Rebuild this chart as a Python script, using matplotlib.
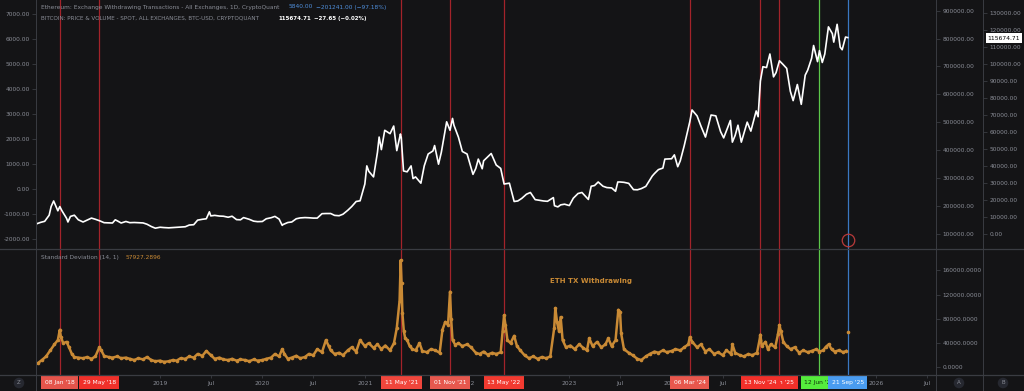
import matplotlib
matplotlib.use("Agg")
import matplotlib.pyplot as plt
import matplotlib.dates as mdates
from matplotlib.lines import Line2D
from matplotlib.transforms import blended_transform_factory
import pandas as pd

# btc price (roughly two points a month)
btc_dates = [
    "2017-10-20", "2017-11-01", "2017-11-15", "2017-12-01", "2017-12-08", "2017-12-17",
    "2018-01-01", "2018-01-08", "2018-01-15", "2018-02-01", "2018-02-06", "2018-02-15",
    "2018-03-01", "2018-03-15", "2018-04-01", "2018-04-15", "2018-05-01", "2018-05-15",
    "2018-06-01", "2018-06-15", "2018-07-01", "2018-07-15", "2018-07-25", "2018-08-01",
    "2018-08-15", "2018-09-01", "2018-09-15", "2018-10-01", "2018-10-15", "2018-11-01",
    "2018-11-15", "2018-12-01", "2018-12-15", "2019-01-01", "2019-01-15", "2019-02-01",
    "2019-02-15", "2019-03-01", "2019-03-15", "2019-04-01", "2019-04-15", "2019-05-01",
    "2019-05-15", "2019-06-01", "2019-06-15", "2019-06-26", "2019-07-01", "2019-07-15",
    "2019-08-01", "2019-08-15", "2019-09-01", "2019-09-15", "2019-10-01", "2019-10-15",
    "2019-10-26", "2019-11-01", "2019-11-15", "2019-12-01", "2019-12-15", "2020-01-01",
    "2020-01-15", "2020-02-01", "2020-02-15", "2020-03-01", "2020-03-12", "2020-03-15",
    "2020-04-01", "2020-04-15", "2020-05-01", "2020-05-15", "2020-06-01", "2020-06-15",
    "2020-07-01", "2020-07-15", "2020-08-01", "2020-08-15", "2020-09-01", "2020-09-15",
    "2020-10-01", "2020-10-15", "2020-11-01", "2020-11-15", "2020-12-01", "2020-12-15",
    "2021-01-01", "2021-01-08", "2021-01-15", "2021-02-01", "2021-02-15", "2021-02-21",
    "2021-03-01", "2021-03-13", "2021-04-01", "2021-04-14", "2021-04-25", "2021-05-08",
    "2021-05-11", "2021-05-19", "2021-06-01", "2021-06-15", "2021-06-22", "2021-07-01",
    "2021-07-20", "2021-08-01", "2021-08-15", "2021-09-01", "2021-09-07", "2021-09-21",
    "2021-10-01", "2021-10-20", "2021-11-01", "2021-11-10", "2021-11-15", "2021-12-01",
    "2021-12-15", "2022-01-01", "2022-01-22", "2022-02-01", "2022-02-10", "2022-02-24",
    "2022-03-01", "2022-03-28", "2022-04-15", "2022-05-01", "2022-05-13", "2022-06-01",
    "2022-06-18", "2022-07-01", "2022-07-15", "2022-08-01", "2022-08-15", "2022-09-01",
    "2022-09-15", "2022-10-01", "2022-10-15", "2022-11-05", "2022-11-09", "2022-11-21",
    "2022-12-01", "2022-12-15", "2023-01-01", "2023-01-15", "2023-02-01", "2023-02-15",
    "2023-03-10", "2023-03-20", "2023-04-01", "2023-04-14", "2023-05-01", "2023-05-15",
    "2023-06-01", "2023-06-15", "2023-06-23", "2023-07-01", "2023-07-15", "2023-08-01",
    "2023-08-18", "2023-09-01", "2023-09-15", "2023-10-01", "2023-10-24", "2023-11-01",
    "2023-11-15", "2023-12-01", "2023-12-08", "2024-01-01", "2024-01-11", "2024-01-23",
    "2024-02-01", "2024-02-15", "2024-03-01", "2024-03-06", "2024-03-14", "2024-04-01",
    "2024-04-15", "2024-05-01", "2024-05-21", "2024-06-07", "2024-06-24", "2024-07-05",
    "2024-07-29", "2024-08-05", "2024-08-15", "2024-08-25", "2024-09-06", "2024-09-27",
    "2024-10-10", "2024-10-29", "2024-11-05", "2024-11-13", "2024-11-22", "2024-12-05",
    "2024-12-17", "2024-12-30", "2025-01-08", "2025-01-20", "2025-02-01", "2025-02-15",
    "2025-02-28", "2025-03-10", "2025-03-25", "2025-04-08", "2025-04-22", "2025-05-01",
    "2025-05-15", "2025-05-22", "2025-06-05", "2025-06-12", "2025-06-22", "2025-07-01",
    "2025-07-14", "2025-07-28", "2025-08-02", "2025-08-14", "2025-08-25", "2025-09-01",
    "2025-09-13", "2025-09-21",
]
btc_price = [
    6000, 6700, 7300, 10900, 16000, 19300,
    13500, 16000, 13700, 9100, 6900, 10200,
    10900, 8200, 6900, 8000, 9200, 8500,
    7500, 6500, 6400, 6300, 8200, 7600,
    6300, 7200, 6500, 6600, 6500, 6350,
    5600, 4200, 3250, 3800, 3600, 3450,
    3600, 3800, 3900, 4100, 5100, 5300,
    8000, 8500, 8800, 12900, 10500, 10800,
    10400, 10300, 9700, 10300, 8300, 8200,
    9500, 9200, 8500, 7400, 7100, 7200,
    8800, 9400, 10200, 8600, 4900, 5400,
    6600, 6900, 8800, 9300, 9500, 9400,
    9200, 9200, 11800, 11900, 11900, 10800,
    10600, 11500, 13800, 16000, 19000, 19400,
    29300, 40000, 36800, 33500, 48000, 57000,
    49600, 61000, 59000, 63500, 49000, 58800,
    56700, 37000, 36500, 40000, 32500, 33500,
    29800, 40000, 47000, 48800, 52000, 41000,
    48000, 66000, 61000, 68000, 64000, 57000,
    48500, 47000, 35000, 38500, 44000, 38300,
    43000, 47300, 40500, 38500, 29300, 29800,
    19000, 19300, 20800, 23300, 24300, 20100,
    19700, 19300, 19100, 21300, 16500, 15800,
    17000, 17400, 16600, 20900, 23700, 24300,
    20200, 28000, 28400, 30500, 28000, 27200,
    27000, 25000, 30500, 30500, 30300, 29700,
    26000, 25900, 26600, 27900, 34000, 35500,
    37800, 38700, 44000, 44200, 46500, 39500,
    43000, 51800, 62500, 66000, 73000, 69500,
    63400, 57000, 70000, 69500, 60200, 56500,
    66800, 54000, 58000, 64000, 54000, 65800,
    60500, 72400, 69000, 90000, 98500, 98000,
    106000, 92500, 95000, 102000, 100000, 97500,
    84000, 78500, 88000, 76300, 93500, 96500,
    103500, 111000, 101500, 108000, 101000, 106000,
    122000, 118000, 113000, 123500, 110000, 108500,
    116000, 115674.71,
]

# standard deviation (14, 1) of eth withdrawing tx, lower pane dots
std_dates = [
    "2017-10-22", "2017-11-05", "2017-11-20", "2017-12-05", "2017-12-20", "2018-01-01",
    "2018-01-08", "2018-01-12", "2018-01-20", "2018-02-01", "2018-02-10", "2018-02-20",
    "2018-03-01", "2018-03-15", "2018-04-01", "2018-04-15", "2018-05-01", "2018-05-15",
    "2018-05-29", "2018-06-05", "2018-06-15", "2018-07-01", "2018-07-15", "2018-08-01",
    "2018-08-15", "2018-09-01", "2018-09-15", "2018-10-01", "2018-10-15", "2018-11-01",
    "2018-11-15", "2018-12-01", "2018-12-15", "2019-01-01", "2019-01-15", "2019-02-01",
    "2019-02-15", "2019-03-01", "2019-03-15", "2019-04-01", "2019-04-15", "2019-05-01",
    "2019-05-15", "2019-06-01", "2019-06-15", "2019-07-01", "2019-07-15", "2019-08-01",
    "2019-08-15", "2019-09-01", "2019-09-15", "2019-10-01", "2019-10-15", "2019-11-01",
    "2019-11-15", "2019-12-01", "2019-12-15", "2020-01-01", "2020-01-15", "2020-02-01",
    "2020-02-15", "2020-03-01", "2020-03-12", "2020-03-20", "2020-04-01", "2020-04-15",
    "2020-05-01", "2020-05-15", "2020-06-01", "2020-06-15", "2020-07-01", "2020-07-15",
    "2020-08-01", "2020-08-15", "2020-08-25", "2020-09-01", "2020-09-15", "2020-10-01",
    "2020-10-15", "2020-11-01", "2020-11-15", "2020-12-01", "2020-12-15", "2021-01-01",
    "2021-01-15", "2021-02-01", "2021-02-15", "2021-03-01", "2021-03-15", "2021-04-01",
    "2021-04-15", "2021-04-25", "2021-05-05", "2021-05-09", "2021-05-12", "2021-05-15",
    "2021-05-20", "2021-05-25", "2021-06-01", "2021-06-10", "2021-06-20", "2021-07-01",
    "2021-07-15", "2021-07-25", "2021-08-10", "2021-08-25", "2021-09-10", "2021-09-25",
    "2021-10-05", "2021-10-15", "2021-10-25", "2021-11-01", "2021-11-05", "2021-11-10",
    "2021-11-20", "2021-12-01", "2021-12-15", "2022-01-01", "2022-01-15", "2022-02-01",
    "2022-02-15", "2022-03-01", "2022-03-15", "2022-04-01", "2022-04-15", "2022-05-01",
    "2022-05-08", "2022-05-13", "2022-05-18", "2022-05-25", "2022-06-05", "2022-06-18",
    "2022-06-28", "2022-07-10", "2022-07-25", "2022-08-10", "2022-08-25", "2022-09-10",
    "2022-09-25", "2022-10-10", "2022-10-25", "2022-11-08", "2022-11-12", "2022-11-18",
    "2022-11-25", "2022-12-01", "2022-12-08", "2022-12-20", "2023-01-05", "2023-01-20",
    "2023-02-05", "2023-02-20", "2023-03-05", "2023-03-13", "2023-03-25", "2023-04-10",
    "2023-04-25", "2023-05-10", "2023-05-20", "2023-06-01", "2023-06-15", "2023-06-25",
    "2023-07-01", "2023-07-05", "2023-07-15", "2023-08-01", "2023-08-15", "2023-09-01",
    "2023-09-15", "2023-10-01", "2023-10-15", "2023-11-01", "2023-11-15", "2023-12-01",
    "2023-12-15", "2024-01-01", "2024-01-15", "2024-02-01", "2024-02-15", "2024-03-01",
    "2024-03-06", "2024-03-15", "2024-04-01", "2024-04-15", "2024-05-01", "2024-05-15",
    "2024-06-01", "2024-06-15", "2024-07-01", "2024-07-15", "2024-08-01", "2024-08-05",
    "2024-08-15", "2024-09-01", "2024-09-15", "2024-10-01", "2024-10-15", "2024-11-01",
    "2024-11-10", "2024-11-13", "2024-11-18", "2024-12-01", "2024-12-10", "2024-12-20",
    "2025-01-05", "2025-01-15", "2025-01-20", "2025-01-25", "2025-02-03", "2025-02-15",
    "2025-03-01", "2025-03-15", "2025-04-01", "2025-04-15", "2025-05-01", "2025-05-15",
    "2025-06-01", "2025-06-12", "2025-06-25", "2025-07-05", "2025-07-15", "2025-07-25",
    "2025-08-05", "2025-08-20", "2025-09-05", "2025-09-15",
]
std_vals = [
    7000, 12000, 18000, 28000, 38000, 45000,
    62000, 50000, 40000, 42000, 33000, 22000,
    17000, 16000, 15000, 17000, 14000, 18000,
    33000, 28000, 19000, 17000, 16000, 18000,
    15000, 16000, 14000, 12000, 15000, 13000,
    17000, 12000, 10000, 11000, 9000, 10000,
    12000, 11000, 15000, 14000, 18000, 16000,
    22000, 19000, 27000, 20000, 14000, 16000,
    13000, 12000, 14000, 11000, 13000, 12000,
    10000, 13000, 11000, 12000, 14000, 16000,
    22000, 18000, 30000, 22000, 14000, 16000,
    19000, 15000, 17000, 22000, 20000, 30000,
    25000, 45000, 35000, 28000, 22000, 24000,
    20000, 28000, 33000, 26000, 45000, 35000,
    40000, 32000, 38000, 30000, 36000, 28000,
    40000, 65000, 110000, 177000, 140000, 90000,
    60000, 48000, 45000, 35000, 30000, 28000,
    40000, 27000, 25000, 30000, 28000, 24000,
    62000, 75000, 70000, 125000, 80000, 45000,
    37000, 40000, 35000, 38000, 33000, 24000,
    22000, 26000, 21000, 24000, 22000, 25000,
    60000, 86000, 70000, 45000, 40000, 52000,
    35000, 28000, 20000, 15000, 18000, 14000,
    17000, 15000, 18000, 65000, 98000, 75000,
    60000, 83000, 45000, 33000, 36000, 30000,
    38000, 32000, 28000, 48000, 35000, 42000,
    33000, 38000, 48000, 35000, 45000, 95000,
    92000, 56000, 30000, 24000, 20000, 14000,
    12000, 18000, 22000, 26000, 24000, 28000,
    25000, 27000, 30000, 28000, 33000, 38000,
    50000, 42000, 33000, 38000, 26000, 30000,
    22000, 25000, 20000, 28000, 22000, 38000,
    24000, 20000, 18000, 22000, 20000, 24000,
    45000, 54000, 35000, 42000, 30000, 38000,
    33000, 55000, 70000, 60000, 42000, 35000,
    30000, 33000, 24000, 28000, 25000, 27000,
    30000, 26000, 28000, 34000, 38000, 30000,
    26000, 28000, 25000, 27000,
]
std_last_date = "2025-09-21"
std_last_val = 57927.2896

# vertical event markers
event_dates = ["2018-01-08", "2018-05-29", "2021-05-11", "2021-11-01", "2022-05-13",
               "2024-03-06", "2025-01-20", "2024-11-13", "2025-06-12", "2025-09-21"]
event_labels = ["08 Jan '18", "29 May '18", "11 May '21", "01 Nov '21", "13 May '22",
                "06 Mar '24", "20 Jan '25", "13 Nov '24", "12 Jun '25", "21 Sep '25"]

left_ticks = [-2000, -1000, 0, 1000, 2000, 3000, 4000, 5000, 6000, 7000]
mid_ticks = [100000, 200000, 300000, 400000, 500000, 600000, 700000, 800000, 900000]
btc_ticks = [0, 10000, 20000, 30000, 40000, 50000, 60000, 70000, 80000, 90000,
             100000, 110000, 120000, 130000]
std_ticks = [0, 40000, 80000, 120000, 160000]
# time ticks that are not hidden behind a date box
time_ticks = ["2019-01-01", "2019-07-01", "2020-01-01", "2020-07-01", "2021-01-01",
              "2022-01-01", "2023-01-01", "2023-07-01", "2024-01-01", "2024-07-01",
              "2026-01-01", "2026-07-01"]

# styles
BG = "#141416"
SEP = "#3a3c42"
TXT = "#8a8d96"
ORANGE = "#c98a35"
event_box = ["#e5544b", "#f0302a", "#f0463c", "#e6584e", "#f23a30",
             "#e8574d", "#f2302a", "#f2302a", "#55ec3c", "#4a9cf0"]
event_line = ["#a3232a"] * 8 + ["#5cc84a", "#3a78c2"]
event_txt = ["white"] * 8 + ["#10300a", "white"]

W, H = 1024, 391


def fx(px):
    return px / W


def fy(py):
    return 1 - py / H


fig = plt.figure(figsize=(W / 100, H / 100), dpi=100)
fig.patch.set_facecolor(BG)

ax_top = fig.add_axes([fx(36), fy(249), 900 / W, 249 / H])
ax_bot = fig.add_axes([fx(36), fy(375), 900 / W, 126 / H], sharex=ax_top)
for a in (ax_top, ax_bot):
    a.set_facecolor(BG)
    for s in a.spines.values():
        s.set_visible(False)

ax_top.set_xlim(mdates.date2num(pd.Timestamp("2017-10-15")),
                mdates.date2num(pd.Timestamp("2026-08-02")))

# left scale (eth tx)
ax_top.set_ylim(-2400, 7560)
ax_top.set_yticks(left_ticks)
ax_top.set_yticklabels([f"{v:.2f}" for v in left_ticks])
ax_top.tick_params(axis="y", colors=TXT, labelsize=4.2, length=3, width=0.6, pad=1.5,
                   color=SEP)
ax_top.tick_params(axis="x", bottom=False, labelbottom=False)

# middle scale
ax_mid = ax_top.twinx()
for s in ax_mid.spines.values():
    s.set_visible(False)
ax_mid.set_ylim(45100, 938400)
ax_mid.set_yticks(mid_ticks)
ax_mid.set_yticklabels([f"{v:.2f}" for v in mid_ticks])
ax_mid.tick_params(axis="y", colors=TXT, labelsize=4.2, length=3, width=0.6, pad=1.5,
                   color=SEP)

# btc price scale
ax_btc = ax_top.twinx()
for s in ax_btc.spines.values():
    s.set_visible(False)
ax_btc.spines["right"].set_position(("axes", (983 - 36) / 900))
ax_btc.set_ylim(-9030, 137850)
ax_btc.set_yticks(btc_ticks)
ax_btc.set_yticklabels([f"{v:.2f}" for v in btc_ticks])
ax_btc.tick_params(axis="y", colors=TXT, labelsize=4.2, length=3, width=0.6, pad=1.5,
                   color=SEP)

bd = pd.to_datetime(btc_dates)
ax_btc.plot(bd, btc_price, color="white", lw=1.2, zorder=5)

# lower pane
sd = pd.to_datetime(std_dates)
ax_bot.plot(sd, std_vals, color=ORANGE, lw=1.8, marker="o", ms=2.6, mec="none")
ax_bot.plot([pd.Timestamp(std_last_date)], [std_last_val], color=ORANGE, marker="o",
            ms=2.6, mec="none", ls="none")
ax_bot.set_ylim(-12700, 195500)
ax_bot.yaxis.tick_right()
ax_bot.set_yticks(std_ticks)
ax_bot.set_yticklabels([f"{v:.4f}" for v in std_ticks])
ax_bot.tick_params(axis="y", colors=TXT, labelsize=4.2, length=3, width=0.6, pad=1.5,
                   color=SEP)

# time axis
xt = pd.to_datetime(time_ticks)
ax_bot.set_xticks(xt)
ax_bot.set_xticklabels([str(t.year) if t.month == 1 else "Jul" for t in xt])
ax_bot.tick_params(axis="x", colors=TXT, labelsize=4.3, length=2, width=0.6, pad=2.5,
                   color=SEP)

# event lines and date boxes
tr = blended_transform_factory(ax_bot.transData, ax_bot.transAxes)
for i, d in enumerate(event_dates):
    t = pd.Timestamp(d)
    ax_top.axvline(t, color=event_line[i], lw=0.9, zorder=1)
    ax_bot.axvline(t, color=event_line[i], lw=0.9, zorder=1)
    ax_bot.text(t, (375 - 382.5) / 126, event_labels[i], transform=tr, ha="center",
                va="center", fontsize=4.3, color=event_txt[i], clip_on=False,
                zorder=10 + i,
                bbox=dict(boxstyle="square,pad=0.6", fc=event_box[i], ec="none"))

# small red circle on the last bar
trt = blended_transform_factory(ax_top.transData, ax_top.transAxes)
ax_top.plot([pd.Timestamp("2025-09-21")], [(249 - 240) / 249], transform=trt,
            marker="o", ms=9, mfc="none", mec="#b83a3a", mew=0.9, clip_on=False)

# pane separators
for x in (36, 936, 983):
    fig.add_artist(Line2D([fx(x), fx(x)], [0, 1], color=SEP, lw=0.7))
for y in (249, 375):
    fig.add_artist(Line2D([0, 1], [fy(y), fy(y)], color=SEP, lw=0.9))

# header legends
fig.text(fx(41), fy(7), "Ethereum: Exchange Withdrawing Transactions - All Exchanges, 1D, CryptoQuant",
         fontsize=4.2, color=TXT, va="center")
fig.text(fx(289), fy(7), "5840.00", fontsize=4.2, color="#4f8fdc", va="center")
fig.text(fx(316), fy(7), "\u2212201241.00 (\u221297.18%)", fontsize=4.2, color="#4f8fdc",
         va="center")
fig.text(fx(41), fy(18.5), "BITCOIN: PRICE & VOLUME - SPOT, ALL EXCHANGES, BTC-USD, CRYPTOQUANT",
         fontsize=4.1, color=TXT, va="center")
fig.text(fx(278), fy(18.5), "115674.71", fontsize=4.0, color="white", va="center",
         weight="bold")
fig.text(fx(314), fy(18.5), "\u221227.65 (\u22120.02%)", fontsize=4.0, color="white",
         va="center", weight="bold")
fig.text(fx(41), fy(257.5), "Standard Deviation (14, 1)", fontsize=4.2, color=TXT,
         va="center")
fig.text(fx(126), fy(257.5), "57927.2896", fontsize=4.2, color=ORANGE, va="center")
fig.text(fx(591), fy(281), "ETH TX Withdrawing", fontsize=5.0, color=ORANGE,
         va="center", ha="center", weight="bold")

# last price tag
fig.text(fx(1004), fy(38), "115674.71", fontsize=4.3, color="black", va="center",
         ha="center", bbox=dict(boxstyle="square,pad=0.35", fc="white", ec="none"))

# scale buttons
for x, s in ((19, "Z"), (959, "A"), (1003, "B")):
    fig.text(fx(x), fy(383), s, fontsize=4.0, color=TXT, ha="center", va="center",
             bbox=dict(boxstyle="circle,pad=0.5", fc="#262830", ec="none"))

fig.savefig("out.png", dpi=100, facecolor=BG)
